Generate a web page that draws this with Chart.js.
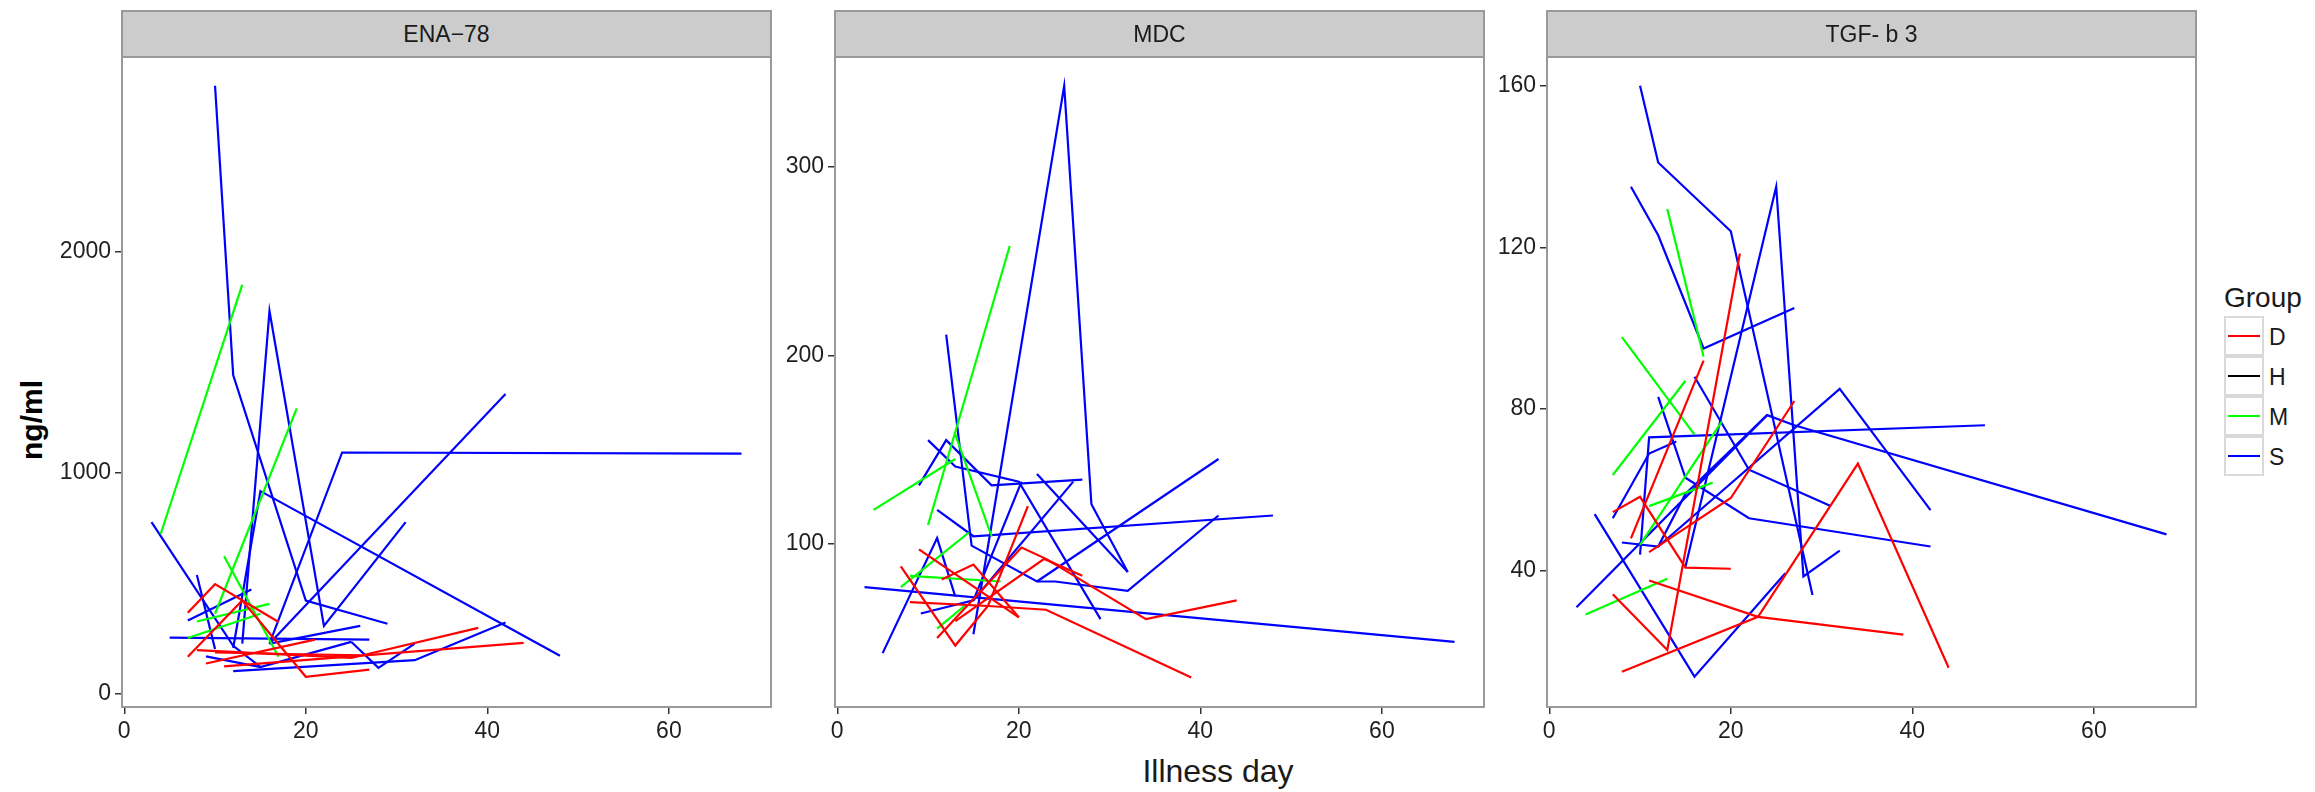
<!DOCTYPE html>
<html>
<head>
<meta charset="utf-8">
<script src="https://cdn.jsdelivr.net/npm/chart.js@4.4.1/dist/chart.umd.min.js"></script>
<style>
  body { margin: 0; width: 2315px; height: 792px; background: #fff; position: relative; overflow: hidden;
         font-family: "Liberation Sans", Arial, sans-serif; }
  canvas.panel { position: absolute; top: 47px; }
  .strip { position: absolute; top: 10px; width: 651px; height: 48px; box-sizing: border-box; background: #cccccc;
           border: 2px solid #999; text-align: center; line-height: 44px; font-size: 23px; color: #1a1a1a; }
  .ytitle { position: absolute; left: 32px; top: 420px; transform: translate(-50%, -50%) rotate(-90deg);
            font-size: 30px; font-weight: bold; color: #000; white-space: nowrap; }
  .xtitle { position: absolute; left: 1218px; top: 771px; transform: translate(-50%, -50%); font-size: 32px; color: #1a1a1a; }
  .legend { position: absolute; left: 2224px; top: 282px; }
  .legend .title { font-size: 28px; color: #1a1a1a; margin-bottom: 3px; }
  .legend .row { height: 40px; display: flex; align-items: center; }
  .legend .key { width: 40px; height: 40px; box-sizing: border-box; border: 2px solid #d9d9d9; position: relative; margin-top: -2px; }
  .legend .key span { position: absolute; left: 2px; right: 2px; top: 17px; height: 2px; }
  .legend .lab { font-size: 23px; margin-left: 5px; color: #1a1a1a; }
</style>
</head>
<body>
<canvas id="c1" class="panel"></canvas>
<canvas id="c2" class="panel"></canvas>
<canvas id="c3" class="panel"></canvas>
<div class="strip" style="left:121px">ENA&minus;78</div>
<div class="strip" style="left:834px">MDC</div>
<div class="strip" style="left:1546px">TGF- b 3</div>
<div class="ytitle">ng/ml</div>
<div class="xtitle">Illness day</div>
<div class="legend" id="legend"><div class="title">Group</div></div>

<script>
// shared
const groupNames = ['D', 'H', 'M', 'S'];
const groupColors = ['#ff0000', '#000000', '#00ff00', '#0000ff'];
const xTicks = [0, 20, 40, 60];

// ENA-78 (one entry per patient)
const enaGroup = ['D', 'D', 'D', 'D', 'D', 'D',
                  'M', 'M', 'M', 'M', 'M',
                  'S', 'S', 'S', 'S', 'S', 'S', 'S', 'S', 'S', 'S', 'S', 'S', 'S'];
const enaDay = [[7, 10, 17], [7, 13, 20, 27], [9, 21], [8, 25, 39], [11, 44], [10, 18, 26],
                [4, 13], [10, 19], [11, 17], [8, 16], [7, 15],
                [10, 12, 20, 29], [13, 16, 22, 31], [3, 12, 15], [12, 15, 48], [16, 24, 68], [16, 42],
                [5, 27], [12, 32, 42], [16, 26], [25, 28, 32], [8, 10], [7, 14], [9, 15, 25]];
const enaValue = [[365, 494, 323], [165, 420, 75, 107], [135, 243], [195, 160, 296], [122, 228], [185, 178, 172],
                  [720, 1850], [360, 1290], [620, 165], [325, 405], [250, 360],
                  [2750, 1440, 420, 315], [225, 1730, 305, 775], [775, 215, 120], [205, 915, 170], [225, 1090, 1085], [225, 1355],
                  [252, 243], [100, 150, 320], [225, 305], [233, 115, 225], [535, 200], [330, 470], [167, 119, 233]];
const enaTicks = [0, 1000, 2000];

// MDC
const mdcGroup = ['D', 'D', 'D', 'D', 'D', 'D',
                  'M', 'M', 'M', 'M', 'M', 'M',
                  'S', 'S', 'S', 'S', 'S', 'S', 'S', 'S', 'S', 'S', 'S'];
const mdcDay = [[7, 13, 16.6, 21], [9, 20], [8, 16.6, 23, 39], [11, 20.3, 23, 34, 44], [11.5, 15, 20], [13, 22.8, 27],
                [4, 13], [10, 19], [13, 17], [7, 14.5], [8, 18], [11, 14],
                [15, 25, 28, 32], [3, 68], [12, 14.8, 22, 24, 32, 42], [9, 12, 17, 27], [10, 13, 20, 29], [22, 32],
                [15, 26], [11, 15, 48], [22, 42], [5, 11, 13], [9.2, 15, 20.3]];
const mdcValue = [[88, 46, 67, 120], [97, 61], [69, 67, 65, 29], [50, 98, 92, 60, 70], [81, 89, 61], [59, 92, 83],
                  [118, 145], [110, 258], [158, 104], [77, 106], [83, 80], [55, 67],
                  [52, 343, 121, 85], [77, 48], [211, 99, 80, 80, 75, 115], [131, 155, 131, 134], [155, 141, 133, 60], [137, 85],
                  [70, 133], [118, 104, 115], [80, 145], [42, 103, 72], [63, 70, 133]];
const mdcTicks = [100, 200, 300];

// TGF-b3
const tgfGroup = ['D', 'D', 'D', 'D', 'D', 'D',
                  'M', 'M', 'M', 'M', 'M', 'M',
                  'S', 'S', 'S', 'S', 'S', 'S', 'S', 'S', 'S', 'S', 'S'];
const tgfDay = [[8, 23, 34, 44], [11, 23, 39], [7, 13, 21], [7, 10, 15, 20], [11, 20, 27], [9, 17],
                [13, 17], [8, 16], [7, 15], [10, 19], [4, 13], [11, 18],
                [10, 12, 20, 29], [9, 12, 17, 27], [15, 25, 28, 32], [10, 11, 48], [12, 15, 22, 42], [16, 22, 31],
                [3, 24, 27, 68], [12, 32, 42], [5, 16, 26], [7, 11, 14], [8, 12, 15, 24]];
const tgfValue = [[15, 28.6, 66.5, 16], [37.6, 28.6, 24.2], [34.2, 20.4, 118.5], [54.5, 58.3, 40.8, 40.5], [44.6, 58, 82], [48, 92],
                  [129.5, 93], [97.8, 73.7], [63.7, 87], [46.4, 76.9], [29.2, 38], [56, 61.8],
                  [160, 141, 124, 34], [135, 123, 95, 105], [41, 135, 38.6, 45], [44, 73, 76], [83, 63, 53, 46], [88, 65, 56],
                  [31, 78.5, 76, 49], [46, 85, 55], [54, 13.8, 39.4], [53, 69, 72], [47, 46, 59, 78.5]];
const tgfTicks = [40, 80, 120, 160];

const font = { family: '"Liberation Sans", Arial, sans-serif', size: 23 };

const panelBorder = {
  id: 'panelBorder',
  afterDraw(chart) {
    const a = chart.chartArea, ctx = chart.ctx;
    ctx.save();
    ctx.strokeStyle = '#999';
    ctx.lineWidth = 2;
    ctx.strokeRect(a.left, a.top, a.right - a.left, a.bottom - a.top);
    ctx.restore();
  }
};

function fixTicks(values) {
  return scale => { scale.ticks = values.map(v => ({ value: v })); };
}

function makePanel(id, plotLeft, groups, days, values, yTicks, yMin, yMax) {
  const canvas = document.getElementById(id);
  canvas.style.left = (plotLeft - 70) + 'px';
  canvas.width = 724; canvas.height = 705;
  canvas.style.width = '724px'; canvas.style.height = '705px';
  const datasets = groups.map((g, i) => ({
    data: days[i].map((d, j) => ({ x: d, y: values[i][j] })),
    borderColor: groupColors[groupNames.indexOf(g)],
    borderWidth: 2.2,
    pointRadius: 0,
    tension: 0,
    fill: false
  }));
  const axisTicks = { color: '#1f1f1f', font: font, padding: 4, autoSkip: false, maxRotation: 0, callback: v => String(v) };
  const axisGrid = { drawOnChartArea: false, drawTicks: true, tickLength: 7, color: '#333', lineWidth: 1.5 };
  new Chart(canvas, {
    type: 'line',
    data: { datasets: datasets },
    options: {
      responsive: false,
      animation: false,
      layout: { padding: { top: 10, right: 5, left: 0, bottom: 0 } },
      plugins: { legend: { display: false }, tooltip: { enabled: false } },
      scales: {
        x: {
          type: 'linear', min: -0.25, max: 71.25,
          ticks: axisTicks, grid: axisGrid, border: { display: false },
          afterBuildTicks: fixTicks(xTicks),
          afterFit: s => { s.height = 45; s.paddingLeft = 0; s.paddingRight = 0; }
        },
        y: {
          type: 'linear', min: yMin, max: yMax,
          ticks: axisTicks, grid: axisGrid, border: { display: false },
          afterBuildTicks: fixTicks(yTicks),
          afterFit: s => { s.width = 70; s.paddingTop = 0; s.paddingBottom = 0; }
        }
      }
    },
    plugins: [panelBorder]
  });
}

makePanel('c1', 122, enaGroup, enaDay, enaValue, enaTicks, -62, 2880);
makePanel('c2', 835, mdcGroup, mdcDay, mdcValue, mdcTicks, 13.4, 358.3);
makePanel('c3', 1547, tgfGroup, tgfDay, tgfValue, tgfTicks, 6.3, 167.1);

// legend keys
const legend = document.getElementById('legend');
groupNames.forEach((g, i) => {
  const row = document.createElement('div');
  row.className = 'row';
  row.innerHTML = '<div class="key"><span style="background:' + groupColors[i] + '"></span></div><div class="lab">' + g + '</div>';
  legend.appendChild(row);
});
</script>
</body>
</html>
